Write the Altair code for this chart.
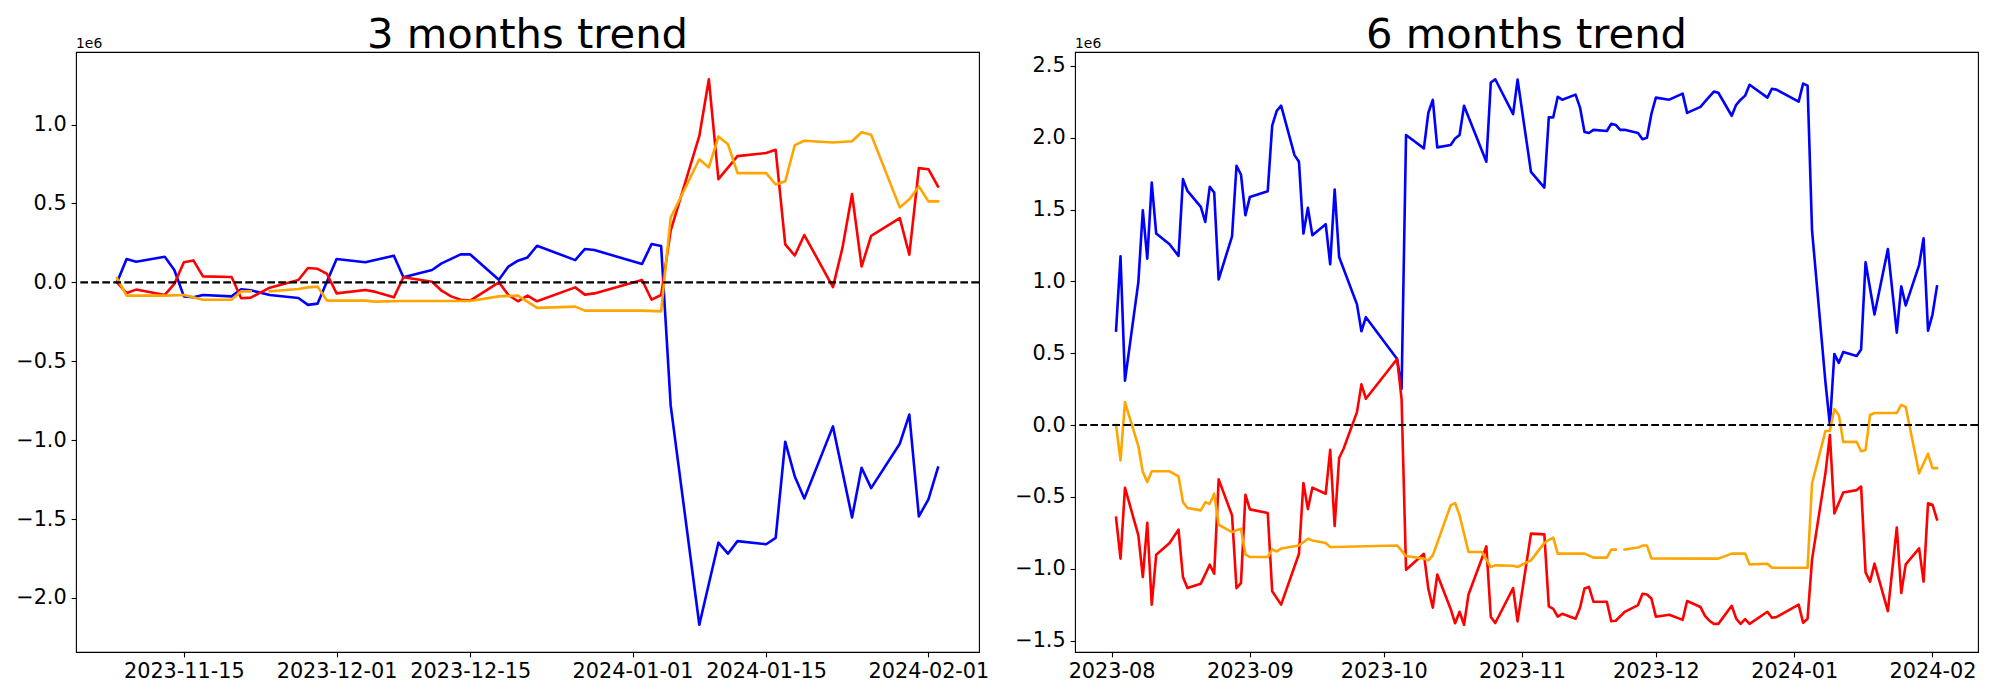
import altair as alt
import pandas as pd

# ---------------- 3 months trend (values in units of 1e6) ----------------
L_BLUE_D = ["2023-11-08", "2023-11-09", "2023-11-10", "2023-11-13", "2023-11-14", "2023-11-15",
            "2023-11-16", "2023-11-17", "2023-11-20", "2023-11-21", "2023-11-22", "2023-11-24",
            "2023-11-27", "2023-11-28", "2023-11-29",
            "2023-12-01", "2023-12-04", "2023-12-07", "2023-12-08", "2023-12-11", "2023-12-12",
            "2023-12-14", "2023-12-15", "2023-12-18", "2023-12-19", "2023-12-20", "2023-12-21",
            "2023-12-22", "2023-12-26", "2023-12-27", "2023-12-28",
            "2024-01-02", "2024-01-03", "2024-01-04", "2024-01-05", "2024-01-08", "2024-01-10",
            "2024-01-11", "2024-01-12", "2024-01-15", "2024-01-16", "2024-01-17", "2024-01-18",
            "2024-01-19", "2024-01-22", "2024-01-24", "2024-01-25", "2024-01-26", "2024-01-29",
            "2024-01-30", "2024-01-31", "2024-02-01", "2024-02-02"]
L_BLUE_V = [0.0, 0.148, 0.131, 0.162, 0.078, -0.089, -0.095, -0.08, -0.089, -0.044, -0.05, -0.08,
            -0.099, -0.143, -0.135,
            0.148, 0.127, 0.169, 0.032, 0.078, 0.12, 0.177, 0.177, 0.017, 0.1, 0.137, 0.158,
            0.232, 0.141, 0.211, 0.205,
            0.116, 0.243, 0.23, -0.78, -2.17, -1.65, -1.72, -1.64, -1.66, -1.62, -1.01, -1.23,
            -1.37, -0.913, -1.49, -1.175, -1.304, -1.023, -0.838, -1.483, -1.376, -1.175]

L_RED_D = ["2023-11-08", "2023-11-09", "2023-11-10", "2023-11-13", "2023-11-14", "2023-11-15",
           "2023-11-16", "2023-11-17", "2023-11-20", "2023-11-21", "2023-11-22", "2023-11-24",
           "2023-11-27", "2023-11-28", "2023-11-29", "2023-11-30",
           "2023-12-01", "2023-12-04", "2023-12-05", "2023-12-07", "2023-12-08", "2023-12-11",
           "2023-12-12", "2023-12-13", "2023-12-14", "2023-12-15", "2023-12-18", "2023-12-19",
           "2023-12-20", "2023-12-21", "2023-12-22", "2023-12-26", "2023-12-27", "2023-12-28",
           "2024-01-02", "2024-01-03", "2024-01-04", "2024-01-05", "2024-01-08", "2024-01-09",
           "2024-01-10", "2024-01-12", "2024-01-15", "2024-01-16", "2024-01-17", "2024-01-18",
           "2024-01-19", "2024-01-22", "2024-01-23", "2024-01-24", "2024-01-25", "2024-01-26",
           "2024-01-29", "2024-01-30", "2024-01-31", "2024-02-01", "2024-02-02"]
L_RED_V = [0.0, -0.068, -0.046, -0.08, -0.01, 0.127, 0.139, 0.038, 0.034, -0.101, -0.097, -0.034,
           0.015, 0.091, 0.086, 0.053,
           -0.07, -0.049, -0.059, -0.095, 0.032, 0.004, -0.053, -0.089, -0.11, -0.116, 0.0, -0.08,
           -0.12, -0.084, -0.12, -0.032, -0.078, -0.07,
           0.015, -0.11, -0.08, 0.327, 0.928, 1.287, 0.654, 0.80, 0.82, 0.84, 0.24, 0.17,
           0.30, -0.03, 0.22, 0.56, 0.10, 0.295, 0.407, 0.175, 0.724, 0.717, 0.608]

L_ORANGE_D = ["2023-11-08", "2023-11-09", "2023-11-13", "2023-11-15", "2023-11-17", "2023-11-20",
              "2023-11-21", "2023-11-22", "2023-11-23", "2023-11-24", "2023-11-27", "2023-11-28",
              "2023-11-29", "2023-11-30",
              "2023-12-04", "2023-12-05", "2023-12-08", "2023-12-15", "2023-12-18", "2023-12-20",
              "2023-12-22", "2023-12-26", "2023-12-27",
              "2024-01-02", "2024-01-04", "2024-01-05", "2024-01-08", "2024-01-09", "2024-01-10",
              "2024-01-11", "2024-01-12", "2024-01-15", "2024-01-16", "2024-01-17", "2024-01-18",
              "2024-01-19", "2024-01-22", "2024-01-24", "2024-01-25", "2024-01-26", "2024-01-29",
              "2024-01-30", "2024-01-31", "2024-02-01", "2024-02-02"]
L_ORANGE_V = [0.027, -0.084, -0.084, -0.08, -0.11, -0.11, -0.057, -0.057, None, -0.057, -0.042,
              -0.032, -0.027, -0.116,
              -0.116, -0.122, -0.118, -0.118, -0.089, -0.084, -0.162, -0.154, -0.179,
              -0.179, -0.184, 0.41, 0.78, 0.728, 0.924, 0.875, 0.692, 0.692, 0.62, 0.64, 0.87,
              0.897, 0.886, 0.894, 0.951, 0.935, 0.475, 0.527, 0.608, 0.513, 0.513]

L_XTICKS = ["2023-11-15", "2023-12-01", "2023-12-15", "2024-01-01", "2024-01-15", "2024-02-01"]
L_YTICKS = [-2.0, -1.5, -1.0, -0.5, 0.0, 0.5, 1.0]

# ---------------- 6 months trend (values in units of 1e6) ----------------
R_BLUE_D = ["2023-08-02", "2023-08-03", "2023-08-04", "2023-08-07", "2023-08-08", "2023-08-09",
            "2023-08-10", "2023-08-11", "2023-08-14", "2023-08-16", "2023-08-17", "2023-08-18",
            "2023-08-21", "2023-08-22", "2023-08-23", "2023-08-24", "2023-08-25", "2023-08-28",
            "2023-08-29", "2023-08-30", "2023-08-31",
            "2023-09-01", "2023-09-05", "2023-09-06", "2023-09-07", "2023-09-08", "2023-09-11",
            "2023-09-12", "2023-09-13", "2023-09-14", "2023-09-15", "2023-09-18", "2023-09-19",
            "2023-09-20", "2023-09-21", "2023-09-25", "2023-09-26", "2023-09-27",
            "2023-10-04", "2023-10-05", "2023-10-06", "2023-10-10", "2023-10-11", "2023-10-12",
            "2023-10-13", "2023-10-16", "2023-10-17", "2023-10-18", "2023-10-19", "2023-10-24",
            "2023-10-25", "2023-10-26", "2023-10-30", "2023-10-31",
            "2023-11-03", "2023-11-06", "2023-11-07", "2023-11-08", "2023-11-09", "2023-11-10",
            "2023-11-13", "2023-11-14", "2023-11-15", "2023-11-16", "2023-11-17", "2023-11-20",
            "2023-11-21", "2023-11-22", "2023-11-23", "2023-11-24", "2023-11-27", "2023-11-28",
            "2023-11-29", "2023-11-30",
            "2023-12-01", "2023-12-04", "2023-12-07", "2023-12-08", "2023-12-11", "2023-12-12",
            "2023-12-14", "2023-12-15", "2023-12-18", "2023-12-19", "2023-12-20", "2023-12-21",
            "2023-12-22", "2023-12-26", "2023-12-27", "2023-12-28",
            "2024-01-02", "2024-01-03", "2024-01-04", "2024-01-05", "2024-01-08", "2024-01-09",
            "2024-01-10", "2024-01-11", "2024-01-12", "2024-01-15", "2024-01-16", "2024-01-17",
            "2024-01-19", "2024-01-22", "2024-01-24", "2024-01-25", "2024-01-26", "2024-01-29",
            "2024-01-30", "2024-01-31", "2024-02-01", "2024-02-02"]
R_BLUE_V = [0.658, 1.174, 0.309, 0.995, 1.495, 1.158, 1.688, 1.333, 1.258, 1.177, 1.712, 1.63,
            1.519, 1.414, 1.658, 1.619, 1.014, 1.314, 1.805, 1.744, 1.46,
            1.588, 1.628, 2.084, 2.186, 2.223, 1.879, 1.833, 1.333, 1.512, 1.321, 1.398, 1.119,
            1.64, 1.17, 0.84, 0.653, 0.751,
            0.46, 0.251, 2.019, 1.926, 2.174, 2.263, 1.933, 1.949, 1.995, 2.019, 2.223, 1.833,
            2.384, 2.407, 2.165, 2.405,
            1.763, 1.653, 2.142, 2.142, 2.285, 2.265, 2.3, 2.21, 2.04, 2.033, 2.055, 2.047,
            2.097, 2.089, 2.055, 2.055, 2.033, 1.99, 2.0, 2.167,
            2.279, 2.265, 2.307, 2.173, 2.215, 2.251, 2.321, 2.313, 2.153, 2.229, 2.265, 2.293,
            2.369, 2.279, 2.341, 2.335,
            2.251, 2.377, 2.363, 1.356, 0.3, 0.0, 0.495, 0.433, 0.509, 0.481, 0.526, 1.133,
            0.769, 1.225, 0.643, 0.965, 0.833, 1.113, 1.3, 0.657, 0.769, 0.965]

R_RED_D = ["2023-08-02", "2023-08-03", "2023-08-04", "2023-08-07", "2023-08-08", "2023-08-09",
           "2023-08-10", "2023-08-11", "2023-08-14", "2023-08-16", "2023-08-17", "2023-08-18",
           "2023-08-21", "2023-08-23", "2023-08-24", "2023-08-25", "2023-08-28", "2023-08-29",
           "2023-08-30", "2023-08-31",
           "2023-09-01", "2023-09-05", "2023-09-06", "2023-09-08", "2023-09-12", "2023-09-13",
           "2023-09-14", "2023-09-15", "2023-09-18", "2023-09-19", "2023-09-20", "2023-09-21",
           "2023-09-22", "2023-09-25", "2023-09-26", "2023-09-27",
           "2023-10-04", "2023-10-05", "2023-10-06", "2023-10-10", "2023-10-11", "2023-10-12",
           "2023-10-13", "2023-10-16", "2023-10-17", "2023-10-18", "2023-10-19", "2023-10-20",
           "2023-10-24", "2023-10-25", "2023-10-26", "2023-10-30", "2023-10-31",
           "2023-11-03", "2023-11-06", "2023-11-07", "2023-11-08", "2023-11-09", "2023-11-10",
           "2023-11-13", "2023-11-14", "2023-11-15", "2023-11-16", "2023-11-17", "2023-11-20",
           "2023-11-21", "2023-11-22", "2023-11-24", "2023-11-27", "2023-11-28", "2023-11-29",
           "2023-11-30",
           "2023-12-01", "2023-12-04", "2023-12-07", "2023-12-08", "2023-12-11", "2023-12-12",
           "2023-12-13", "2023-12-14", "2023-12-15", "2023-12-18", "2023-12-19", "2023-12-20",
           "2023-12-21", "2023-12-22", "2023-12-26", "2023-12-27", "2023-12-28",
           "2024-01-02", "2024-01-03", "2024-01-04", "2024-01-05", "2024-01-08", "2024-01-09",
           "2024-01-10", "2024-01-12", "2024-01-15", "2024-01-16", "2024-01-17", "2024-01-18",
           "2024-01-19", "2024-01-22", "2024-01-24", "2024-01-25", "2024-01-26", "2024-01-29",
           "2024-01-30", "2024-01-31", "2024-02-01", "2024-02-02"]
R_RED_V = [-0.645, -0.93, -0.436, -0.768, -1.058, -0.68, -1.25, -0.903, -0.821, -0.728, -1.058,
           -1.135, -1.104, -0.972, -1.035, -0.378, -0.629, -1.135, -1.1, -0.485,
           -0.587, -0.612, -1.157, -1.25, -0.896, -0.404, -0.585, -0.436, -0.478, -0.172, -0.703,
           -0.229, -0.165, 0.09, 0.283, 0.183,
           0.46, 0.18, -1.007, -0.896, -1.14, -1.271, -1.04, -1.28, -1.38, -1.30, -1.39, -1.18,
           -0.845, -1.336, -1.378, -1.135, -1.367,
           -0.756, -0.761, -1.262, -1.28, -1.334, -1.314, -1.348, -1.272, -1.138, -1.127, -1.23,
           -1.23, -1.365, -1.362, -1.3, -1.253, -1.174, -1.18, -1.208,
           -1.334, -1.32, -1.356, -1.225, -1.267, -1.328, -1.362, -1.384, -1.384, -1.258, -1.348,
           -1.384, -1.351, -1.384, -1.3, -1.342, -1.337,
           -1.25, -1.376, -1.348, -0.937, -0.336, -0.07, -0.615, -0.47, -0.453, -0.428, -1.026,
           -1.09, -0.965, -1.295, -0.713, -1.169, -0.97, -0.858, -1.09, -0.545, -0.554, -0.657]

R_ORANGE_D = ["2023-08-02", "2023-08-03", "2023-08-04", "2023-08-07", "2023-08-08", "2023-08-09",
              "2023-08-10", "2023-08-14", "2023-08-16", "2023-08-17", "2023-08-18", "2023-08-21",
              "2023-08-22", "2023-08-23", "2023-08-24", "2023-08-25", "2023-08-28", "2023-08-29",
              "2023-08-30", "2023-08-31",
              "2023-09-01", "2023-09-05", "2023-09-06", "2023-09-07", "2023-09-08", "2023-09-12",
              "2023-09-14", "2023-09-15", "2023-09-18", "2023-09-19", "2023-09-20",
              "2023-10-04", "2023-10-06", "2023-10-10", "2023-10-11", "2023-10-12", "2023-10-16",
              "2023-10-17", "2023-10-18", "2023-10-20", "2023-10-23", "2023-10-25", "2023-10-26",
              "2023-10-30", "2023-10-31",
              "2023-11-03", "2023-11-06", "2023-11-07", "2023-11-08", "2023-11-09", "2023-11-15",
              "2023-11-17", "2023-11-20", "2023-11-21", "2023-11-22", "2023-11-23", "2023-11-24",
              "2023-11-27", "2023-11-28", "2023-11-29", "2023-11-30",
              "2023-12-15", "2023-12-18", "2023-12-21", "2023-12-22", "2023-12-26", "2023-12-27",
              "2024-01-04", "2024-01-05", "2024-01-08", "2024-01-09", "2024-01-10", "2024-01-11",
              "2024-01-12", "2024-01-15", "2024-01-16", "2024-01-17", "2024-01-18", "2024-01-19",
              "2024-01-24", "2024-01-25", "2024-01-26", "2024-01-29", "2024-01-31", "2024-02-01",
              "2024-02-02"]
R_ORANGE_V = [0.0, -0.246, 0.16, -0.146, -0.327, -0.397, -0.322, -0.322, -0.357, -0.536, -0.578,
              -0.594, -0.538, -0.548, -0.478, -0.694, -0.745, -0.733, -0.722, -0.9,
              -0.919, -0.919, -0.865, -0.88, -0.86, -0.838, -0.791, -0.803, -0.821, -0.849, -0.849,
              -0.838, -0.912, -0.93, -0.942, -0.907, -0.559, -0.543, -0.629, -0.884, -0.884,
              -0.988, -0.977, -0.979, -0.988,
              -0.942, -0.82, -0.80, -0.783, -0.895, -0.895, -0.923, -0.923, -0.867, -0.867, None,
              -0.867, -0.853, -0.839, -0.839, -0.928,
              -0.93, -0.895, -0.895, -0.97, -0.965, -0.993,
              -0.993, -0.405, -0.042, -0.04, 0.112, 0.07, -0.117, -0.117, -0.182, -0.173, 0.07,
              0.084, 0.084, 0.14, 0.126, -0.336, -0.2, -0.3, -0.3]

R_XTICKS = ["2023-08-01", "2023-09-01", "2023-10-01", "2023-11-01", "2023-12-01", "2024-01-01",
            "2024-02-01"]
R_YTICKS = [-1.5, -1.0, -0.5, 0.0, 0.5, 1.0, 1.5, 2.0, 2.5]

TITLES = ["3 months trend", "6 months trend"]
SERIES_COLORS = [("blue", "#0000ff"), ("red", "#ff0000"), ("orange", "#ffa500")]

FONT = "DejaVu Sans"
MINUS = "\u2212"


def series_frame(dates, values, name):
    rows, seg = [], 0
    for d, v in zip(dates, values):
        if v is None:
            seg += 1
            continue
        rows.append({"date": d, "value": v, "series": name, "seg": f"{name}{seg}"})
    return pd.DataFrame(rows)


def dt(ts):
    ts = pd.Timestamp(ts)
    return alt.DateTime(year=ts.year, month=ts.month, date=ts.day, hours=ts.hour,
                        minutes=ts.minute, seconds=ts.second, utc=True)


def panel(title, series, xticks, xfmt, yticks):
    df = pd.concat([series_frame(d, v, n) for n, d, v in series], ignore_index=True)
    t = pd.to_datetime(df["date"])
    span = t.max() - t.min()
    xdom = [dt(t.min() - 0.05 * span), dt(t.max() + 0.05 * span)]
    vmin, vmax = float(df["value"].min()), float(df["value"].max())
    r = vmax - vmin
    ydom = [vmin - 0.05 * r, vmax + 0.05 * r]

    x = alt.X("date:T", scale=alt.Scale(type="utc", domain=xdom),
              axis=alt.Axis(values=[dt(v) for v in xticks], title=None,
                            labelExpr=f"utcFormat(datum.value, '{xfmt}')"))
    y = alt.Y("value:Q", scale=alt.Scale(domain=ydom, nice=False, zero=False),
              axis=alt.Axis(values=yticks, title=None,
                            labelExpr=f"replace(format(datum.value, '.1f'), '-', '{MINUS}')"))

    layers = []
    for name, color in SERIES_COLORS:
        layers.append(
            alt.Chart(df[df["series"] == name])
            .mark_line(color=color, strokeWidth=2.6, strokeJoin="round", strokeCap="square")
            .encode(x=x, y=y, detail="seg:N")
        )
    zero = (alt.Chart(pd.DataFrame({"value": [0.0]}))
            .mark_rule(color="black", strokeDash=[7.7, 3.3], strokeWidth=2.08)
            .encode(y=y))
    offset_txt = (alt.Chart(pd.DataFrame({"t": ["1e6"]}))
                  .mark_text(align="left", baseline="alphabetic", fontSize=13.9, font=FONT,
                             color="black")
                  .encode(x=alt.value(0), y=alt.value(-4.5), text="t:N"))
    return alt.layer(*layers, zero, offset_txt).properties(
        width=903, height=600,
        title=alt.TitleParams(title, fontSize=41.7, font=FONT, fontWeight="normal",
                              color="black", anchor="middle", frame="group",
                              baseline="alphabetic", offset=-53),
    )


left = panel(TITLES[0],
             [("blue", L_BLUE_D, L_BLUE_V), ("red", L_RED_D, L_RED_V),
              ("orange", L_ORANGE_D, L_ORANGE_V)],
             L_XTICKS, "%Y-%m-%d", L_YTICKS)
right = panel(TITLES[1],
              [("blue", R_BLUE_D, R_BLUE_V), ("red", R_RED_D, R_RED_V),
               ("orange", R_ORANGE_D, R_ORANGE_V)],
              R_XTICKS, "%Y-%m", R_YTICKS)

chart = (
    alt.hconcat(left, right, spacing=96, bounds="flush")
    .properties(padding={"left": 7, "top": 6, "right": 10, "bottom": 5}, background="white")
    .configure_view(stroke="black", strokeWidth=1.1)
    .configure_axis(labelFont=FONT, labelFontSize=20.8, labelColor="black", tickColor="black",
                    tickSize=4.9, tickWidth=1.1, labelPadding=4.9, domain=False, grid=False,
                    labelOverlap=False, labelFlush=False)
)

chart.save("out.html", embed_options={"renderer": "svg", "actions": False})
